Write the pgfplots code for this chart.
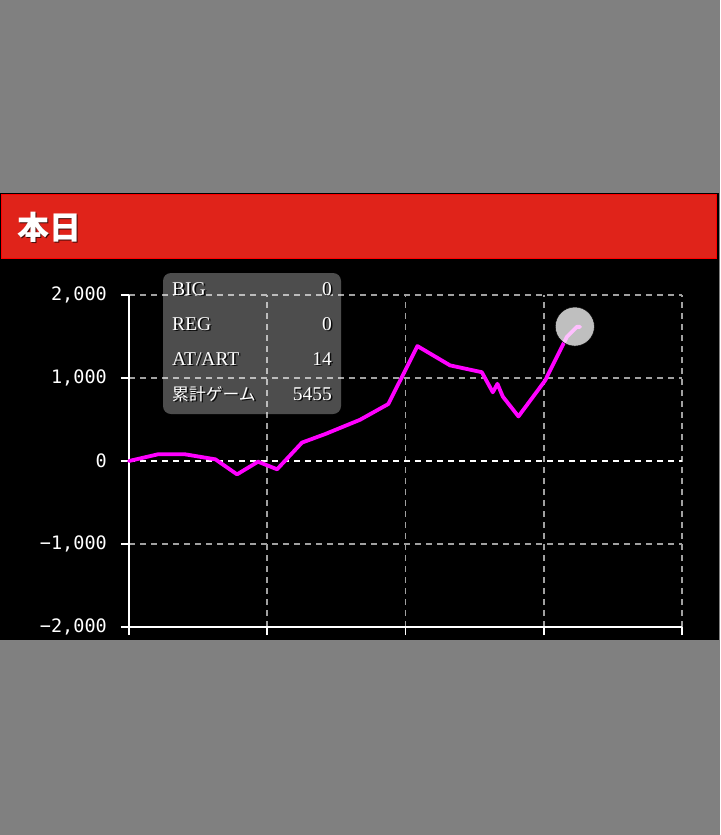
\documentclass[border=0pt]{standalone}
\usepackage{pgfplots}
\pgfplotsset{compat=1.18}
\usepackage{fontspec}
\setmainfont{Liberation Serif}
\setmonofont{DejaVu Sans Mono}
\newfontfamily\cjk{Noto Sans CJK JP}
\definecolor{bggray}{HTML}{808080}
\definecolor{hdrred}{HTML}{E0231A}
\definecolor{gridgray}{HTML}{A0A0A0}
\definecolor{mag}{HTML}{FF00FF}
\begin{document}
\begin{tikzpicture}
\useasboundingbox (0,0) rectangle (720pt,-835pt);
\fill[bggray] (0,0) rectangle (720pt,-835pt);
\fill[black] (0,-193pt) rectangle (719pt,-640pt);
\fill[hdrred] (1pt,-194pt) rectangle (717pt,-259pt);
\draw[red, line width=1pt] (1.5pt,-194.5pt) rectangle (716.5pt,-258.5pt);
\node[anchor=west, text=black, opacity=0.7, font=\cjk\bfseries\fontsize{32}{36}\selectfont, inner sep=0pt] at (18.5pt,-228.5pt) {本日};
\node[anchor=west, text=white, font=\cjk\bfseries\fontsize{32}{36}\selectfont, inner sep=0pt] at (17pt,-227pt) {本日};
\begin{axis}[
  at={(129pt,-627pt)}, anchor=south west,
  scale only axis, width=553pt, height=332pt,
  xmin=0, xmax=8000, ymin=-2000, ymax=2000,
  xtick={0,2000,4000,6000,8000}, xticklabels={},
  ytick={-2000,-1000,0,1000,2000},
  yticklabels={{−2,000},{−1,000},0,{1,000},{2,000}},
  yticklabel style={text=white, font=\ttfamily\fontsize{18.5}{20}\selectfont, anchor=east, inner sep=0pt, xshift=-14pt},
  axis x line*=bottom, axis y line*=left,
  axis line style={white, line width=1.8pt, -},
  tick style={white, line width=1.8pt},
  tick align=outside, major tick length=8pt,
  grid=major,
  grid style={gridgray, line width=1.6pt, dash pattern=on 6pt off 5pt},
  clip=false,
]
\addplot[draw=white, line width=1.8pt, dash pattern=on 6pt off 5pt, forget plot] coordinates {(0,0) (8000,0)};
\addplot[mag, line width=3.8pt, line join=round, line cap=round] coordinates {
(0,0) (420,81) (810,81) (1250,20) (1563,-161) (1867,-8) (2142,-100) (2503,222)
(2836,324) (3343,497) (3752,687) (4172,1385) (4645,1152) (5104,1070) (5263,828)
(5330,930) (5408,776) (5634,537) (6020,970) (6334,1495) (6479,1616) (6526,1616)
};
\addplot[only marks, mark=*, mark size=19.5pt, mark options={fill=white, draw=none, fill opacity=0.75}] coordinates {(6450,1620)};
\end{axis}
\fill[white, opacity=0.3, rounded corners=8pt] (163pt,-273pt) rectangle (341pt,-414pt);
\begin{scope}[every node/.style={inner sep=0pt, font=\fontsize{19.5}{22}\selectfont}]
\foreach \lab/\val/\yy in {BIG/0/295, REG/0/330, AT\slash ART/14/365} {
  \node[anchor=base west, text=black, opacity=0.85] at (173.6pt,-\yy pt-1.5pt) {\lab};
  \node[anchor=base west, text=white] at (172pt,-\yy pt) {\lab};
  \node[anchor=base east, text=black, opacity=0.85] at (333.6pt,-\yy pt-1.5pt) {\val};
  \node[anchor=base east, text=white] at (332pt,-\yy pt) {\val};
}
\node[anchor=base west, text=black, opacity=0.85, font=\cjk\fontsize{16.8}{20}\selectfont] at (173.6pt,-401.5pt) {累計ゲーム};
\node[anchor=base west, text=white, font=\cjk\fontsize{16.8}{20}\selectfont] at (172pt,-400pt) {累計ゲーム};
\node[anchor=base east, text=black, opacity=0.85] at (333.6pt,-401.5pt) {5455};
\node[anchor=base east, text=white] at (332pt,-400pt) {5455};
\end{scope}
\end{tikzpicture}
\end{document}
